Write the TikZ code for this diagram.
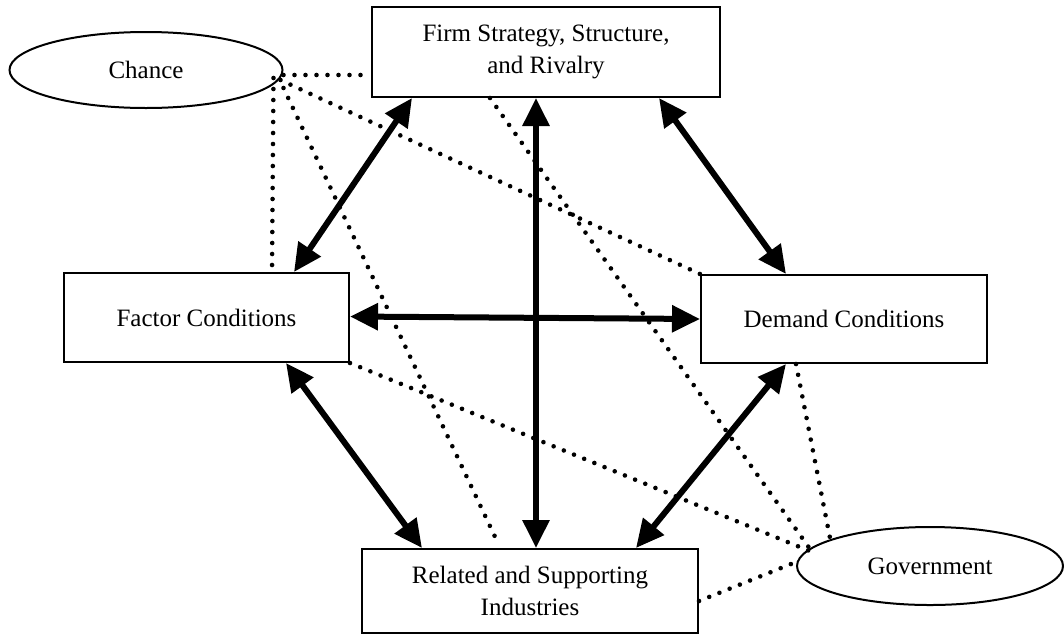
\documentclass[tikz,border=0pt]{standalone}
\usepackage{fontspec}
\setmainfont{Liberation Serif}
\usetikzlibrary{arrows.meta,shapes.geometric}
\tikzset{
  box/.style={draw, line width=2pt, inner sep=0pt, align=center, font=\fontsize{25}{32}\selectfont},
  oval/.style={draw, ellipse, line width=2pt, inner sep=0pt, font=\fontsize{25}{32}\selectfont},
  link/.style={line width=6pt, {Triangle[length=28pt,width=26pt]}-{Triangle[length=28pt,width=26pt]}},
  dots/.style={line width=4.6pt, line cap=round, dash pattern=on 0pt off 11pt},
}
\begin{document}
\begin{tikzpicture}[x=1pt,y=-1pt]
\useasboundingbox (0,0) rectangle (1064,635);
\node[box, minimum width=348pt, minimum height=90pt] (firm) at (546,52) {Firm Strategy, Structure,\\and Rivalry};
\node[oval, minimum width=273pt, minimum height=76pt] (chance) at (146,70) {Chance};
\node[box, minimum width=285pt, minimum height=89pt] (factor) at (206.5,317.5) {Factor Conditions};
\node[box, minimum width=286pt, minimum height=88pt] (demand) at (844,319) {Demand Conditions};
\node[box, minimum width=336pt, minimum height=84pt] (related) at (530,591) {Related and Supporting\\Industries};
\node[oval, minimum width=266pt, minimum height=78pt] (gov) at (930,566) {Government};

% dotted influences
\draw[dots] ([yshift=-5pt]chance.east) -- ([yshift=-23pt]firm.west);
\draw[dots] ([xshift=-10pt,yshift=-8pt]chance.east) -- ([xshift=209pt]factor.north west);
\draw[dots] ([xshift=-3pt,yshift=-10pt]chance.east) -- (demand.north west);
\draw[dots] ([yshift=-18pt]chance.east) -- ([xshift=136pt,yshift=7pt]related.north west);
\draw[dots] ([xshift=119pt]firm.south west) -- ([xshift=14pt,yshift=17pt]gov.west);
\draw[dots] (factor.south east) -- ([xshift=16pt,yshift=14pt]gov.west);
\draw[dots] ([xshift=96pt]demand.south west) -- ([xshift=34pt,yshift=28pt]gov.west);
\draw[dots] ([yshift=-10pt]related.east) -- ([yshift=4pt]gov.west);

% mutual reinforcement
\draw[link] ([xshift=41pt]firm.south west) -- ([xshift=231pt]factor.north west);
\draw[link] ([xshift=288pt]firm.south west) -- ([xshift=86pt]demand.north west);
\draw[link] ([xshift=165pt]firm.south west) -- ([xshift=175pt]related.north west);
\draw[link] ([yshift=1pt]factor.east) -- (demand.west);
\draw[link] ([xshift=223pt]factor.south west) -- ([xshift=61pt]related.north west);
\draw[link] ([xshift=86pt]demand.south west) -- ([xshift=275pt]related.north west);
\end{tikzpicture}
\end{document}
